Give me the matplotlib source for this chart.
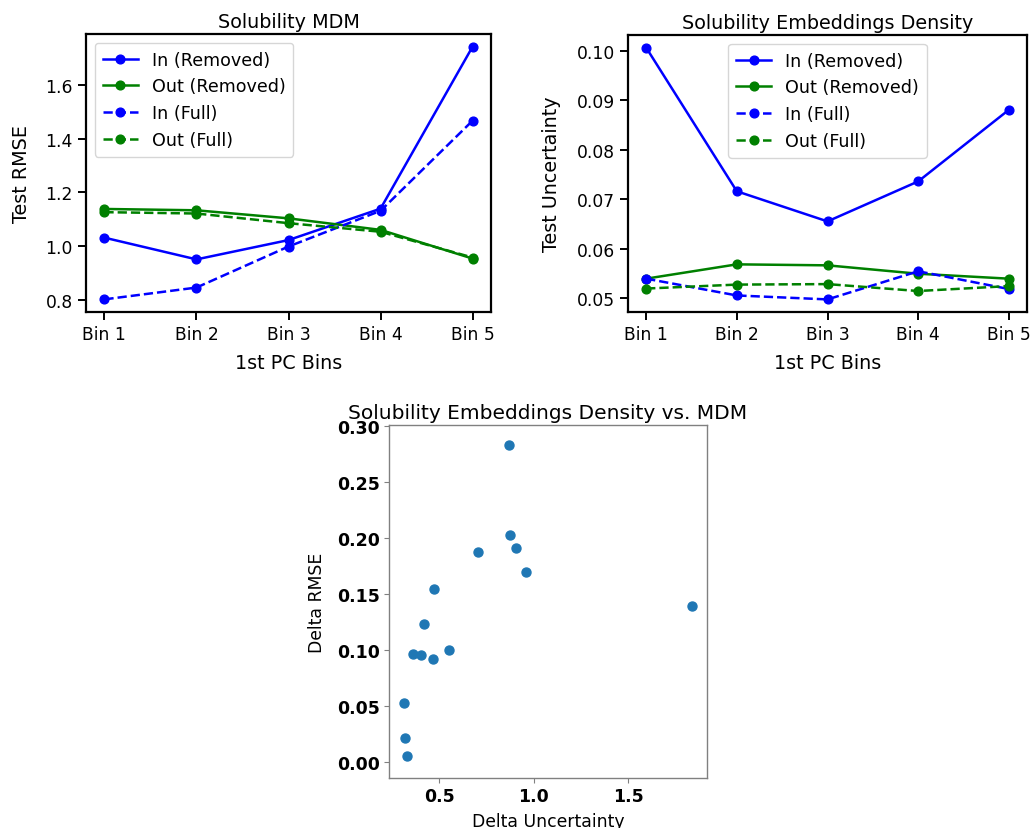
import matplotlib
matplotlib.use("Agg")
import matplotlib.pyplot as plt

bins = ["Bin 1", "Bin 2", "Bin 3", "Bin 4", "Bin 5"]

mdm_in_removed = [1.031, 0.950, 1.022, 1.139, 1.743]
mdm_out_removed = [1.138, 1.133, 1.103, 1.060, 0.953]
mdm_in_full = [0.801, 0.845, 0.998, 1.131, 1.467]
mdm_out_full = [1.126, 1.121, 1.085, 1.053, 0.957]

dens_in_removed = [0.1007, 0.0716, 0.0655, 0.0736, 0.0881]
dens_out_removed = [0.0539, 0.0568, 0.0566, 0.0549, 0.0539]
dens_in_full = [0.0539, 0.0505, 0.0497, 0.0554, 0.0518]
dens_out_full = [0.0519, 0.0527, 0.0528, 0.0514, 0.0524]

delta_uncertainty = [0.870, 0.877, 0.907, 0.705, 0.962, 0.472, 1.837, 0.421,
                     0.551, 0.362, 0.407, 0.466, 0.317, 0.322, 0.331]
delta_rmse = [0.2832, 0.2022, 0.1908, 0.1875, 0.1698, 0.1542, 0.1392, 0.1230,
              0.1005, 0.0966, 0.0954, 0.0921, 0.0528, 0.0216, 0.0057]

plt.rcParams['font.family'] = ['DejaVu Sans']

W, H = 1032, 829
fig = plt.figure(figsize=(W / 100, H / 100), dpi=100)


def box(l, r, t, b):
    return [l / W, (H - b) / H, (r - l) / W, (b - t) / H]


def line_panel(ax, series, title, ylabel, legend_loc, ylabelpad):
    x = list(range(len(bins)))
    styles = [("In (Removed)", "blue", "-"), ("Out (Removed)", "green", "-"),
              ("In (Full)", "blue", "--"), ("Out (Full)", "green", "--")]
    for vals, (lab, col, ls) in zip(series, styles):
        ax.plot(x, vals, color=col, linestyle=ls, marker="o", markersize=6.3,
                linewidth=1.8, label=lab)
    ax.set_xticks(x)
    ax.set_xticklabels(bins)
    ax.set_title(title, fontsize=13.8, pad=5)
    ax.set_xlabel("1st PC Bins", fontsize=13.8, labelpad=7)
    ax.set_ylabel(ylabel, fontsize=13.8, labelpad=ylabelpad)
    ax.tick_params(labelsize=12.3, length=6, width=1.4, direction="out")
    for s in ax.spines.values():
        s.set_linewidth(1.6)
        s.set_color("black")
    ax.legend(loc=legend_loc, fontsize=12.6, framealpha=0.8, borderpad=0.45,
              handlelength=2.0)


ax1 = fig.add_axes(box(86, 491, 35, 313))
line_panel(ax1, [mdm_in_removed, mdm_out_removed, mdm_in_full, mdm_out_full],
           "Solubility MDM", "Test RMSE", "upper left", 10.5)
ax1.set_yticks([0.8, 1.0, 1.2, 1.4, 1.6])

ax2 = fig.add_axes(box(628, 1027, 36, 313))
line_panel(ax2, [dens_in_removed, dens_out_removed, dens_in_full, dens_out_full],
           "Solubility Embeddings Density", "Test Uncertainty", "upper center", 11)
ax2.set_yticks([0.05, 0.06, 0.07, 0.08, 0.09, 0.10])
ax2.set_yticklabels(["0.05", "0.06", "0.07", "0.08", "0.09", "0.10"])

ax3 = fig.add_axes(box(389, 707, 426, 779))
ax3.scatter(delta_uncertainty, delta_rmse, s=42, color="#1f77b4")
ax3.set_xlim(0.235, 1.918)
ax3.set_ylim(-0.014, 0.3006)
ax3.set_xticks([0.5, 1.0, 1.5])
ax3.set_yticks([0.0, 0.05, 0.10, 0.15, 0.20, 0.25, 0.30])
ax3.set_yticklabels(["0.00", "0.05", "0.10", "0.15", "0.20", "0.25", "0.30"])
for lab in ax3.get_xticklabels() + ax3.get_yticklabels():
    lab.set_fontweight("bold")
ax3.tick_params(labelsize=12.5, length=3.5, width=0.8, color="#808080", pad=3)
for s in ax3.spines.values():
    s.set_linewidth(1.0)
    s.set_color("#808080")
ax3.set_title("Solubility Embeddings Density vs. MDM", fontsize=14.5, pad=5)
ax3.set_xlabel("Delta Uncertainty", fontsize=12.4, labelpad=5)
ax3.set_ylabel("Delta RMSE", fontsize=12.4, labelpad=8)

fig.savefig("out.png", dpi=100)
